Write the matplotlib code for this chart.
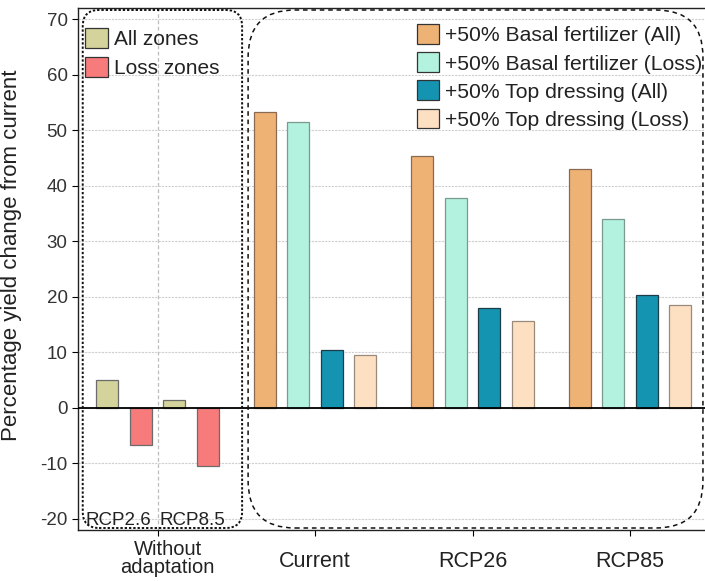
import matplotlib
matplotlib.use("Agg")
import matplotlib.pyplot as plt
import matplotlib.transforms as mtransforms
from matplotlib.patches import FancyBboxPatch
import numpy as np

plt.rcParams['font.family'] = ['Liberation Sans', 'DejaVu Sans']

# ---- data ----
groups = ["Without\nadaptation", "Current", "RCP26", "RCP85"]
noadapt_scen = ["RCP2.6", "RCP8.5"]
all_zones = [5.1, 1.4]
loss_zones = [-6.7, -10.4]

adapt_groups = ["Current", "RCP26", "RCP85"]
basal_all = [53.2, 45.3, 43.0]
basal_loss = [51.4, 37.8, 34.0]
top_all = [10.4, 17.9, 20.4]
top_loss = [9.5, 15.6, 18.6]

yticks = [-20, -10, 0, 10, 20, 30, 40, 50, 60, 70]

# ---- figure ----
fig = plt.figure(figsize=(7.05, 5.81), dpi=100)
ax = fig.add_axes([78/705, 51/581, (705-78)/705, 522/581])

xlim = (-0.505, 3.476)
ylim = (-22, 72)
ax.set_xlim(*xlim)
ax.set_ylim(*ylim)

w = 0.14
edge = '#6b6b6b'
# without adaptation group
x_all = np.array([-0.32, 0.105])
x_loss = np.array([-0.105, 0.32])
b1 = ax.bar(x_all, all_zones, w, color='#d3d39b', edgecolor=edge, lw=0.9, zorder=3, label='All zones')
b2 = ax.bar(x_loss, loss_zones, w, color='#f77b7b', edgecolor=edge, lw=0.9, zorder=3, label='Loss zones')

xa = np.arange(1, 4)
offs = [-0.32, -0.107, 0.107, 0.32]
series = [(basal_all, '#efb275', '#8a6a50', '+50% Basal fertilizer (All)'),
          (basal_loss, '#b3f2de', '#7a9a90', '+50% Basal fertilizer (Loss)'),
          (top_all, '#1594b2', '#1c3d48', '+50% Top dressing (All)'),
          (top_loss, '#fde0c2', '#9a8a7a', '+50% Top dressing (Loss)')]
handles2 = []
for (vals, c, ec, lab), o in zip(series, offs):
    h = ax.bar(xa + o, vals, w, color=c, edgecolor=ec, lw=0.9, zorder=3, label=lab)
    handles2.append(h)

# zero line
ax.axhline(0, color='black', lw=1.3, zorder=4)

# grid
ax.set_yticks(yticks)
ax.set_yticklabels([str(t) for t in yticks])
ax.yaxis.grid(True, color='#cfcfcf', ls=(0, (2, 1)), lw=0.8, zorder=0)
ax.axvline(0, color='#bdbdbd', ls=(0, (3, 2)), lw=0.9, zorder=0)

ax.set_xticks(range(4))
ax.set_xticklabels(groups, fontsize=15.5, color='#222222')
ax.tick_params(axis='x', length=4, pad=18.5)
ax.tick_params(axis='y', labelsize=13.5, labelcolor='#333333', length=4)
for lbl in ax.get_xticklabels():
    lbl.set_va('center')
offset = mtransforms.ScaledTranslation(10/100, 3/100, fig.dpi_scale_trans)
lbl0 = ax.get_xticklabels()[0]
lbl0.set_transform(lbl0.get_transform() + offset)
lbl0.set_linespacing(0.95)
lbl0.set_fontsize(14.5)

ax.spines['right'].set_visible(False)
for s in ['left', 'bottom', 'top']:
    ax.spines[s].set_color('#222222')
    ax.spines[s].set_linewidth(1.0)

ax.set_ylabel('Percentage yield change from current', fontsize=16, color='#222222')
ax.yaxis.set_label_coords(-0.089, (530 - 255) / 522)

# scenario labels inside
for xs, t in zip([-0.25, 0.222], noadapt_scen):
    ax.text(xs, -20.2, t, ha='center', va='center', fontsize=13.5, color='#222222', zorder=5)

# rounded boxes
W = (705-78); H = 522
def fx(x):
    return (x - xlim[0]) / (xlim[1] - xlim[0])
y0 = 2/522; y1 = 520/522
lb = FancyBboxPatch((fx(-0.475), y0), fx(0.537) - fx(-0.475), y1 - y0,
                    boxstyle='round,pad=0,rounding_size=0.026', mutation_aspect=W/H,
                    transform=ax.transAxes, fill=False, ls=(0, (1.2, 1.0)), lw=1.4,
                    ec='#111111', zorder=6, clip_on=False)
rb = FancyBboxPatch((fx(0.575), y0), fx(3.463) - fx(0.575), y1 - y0,
                    boxstyle='round,pad=0,rounding_size=0.075', mutation_aspect=W/H,
                    transform=ax.transAxes, fill=False, ls=(0, (3, 2.5)), lw=1.1,
                    ec='#111111', zorder=6, clip_on=False)
ax.add_patch(lb)
ax.add_patch(rb)

leg1 = ax.legend(handles=[b1, b2], loc='upper left', bbox_to_anchor=(-0.008, 0.985),
                 frameon=False, fontsize=15, handlelength=1.1, handleheight=1.1,
                 handletextpad=0.25, labelspacing=0.38, borderaxespad=0.2)
ax.add_artist(leg1)
leg2 = ax.legend(handles=handles2, loc='upper left', bbox_to_anchor=(0.52, 0.993),
                 frameon=False, fontsize=15.2, handlelength=1.07, handleheight=1.07,
                 handletextpad=0.28, labelspacing=0.33, borderaxespad=0.2)
for l in (leg1, leg2):
    for t in l.get_texts():
        t.set_color('#222222')
    for p in l.legend_handles:
        p.set_edgecolor('#333333')

fig.savefig('out.png', dpi=100)
